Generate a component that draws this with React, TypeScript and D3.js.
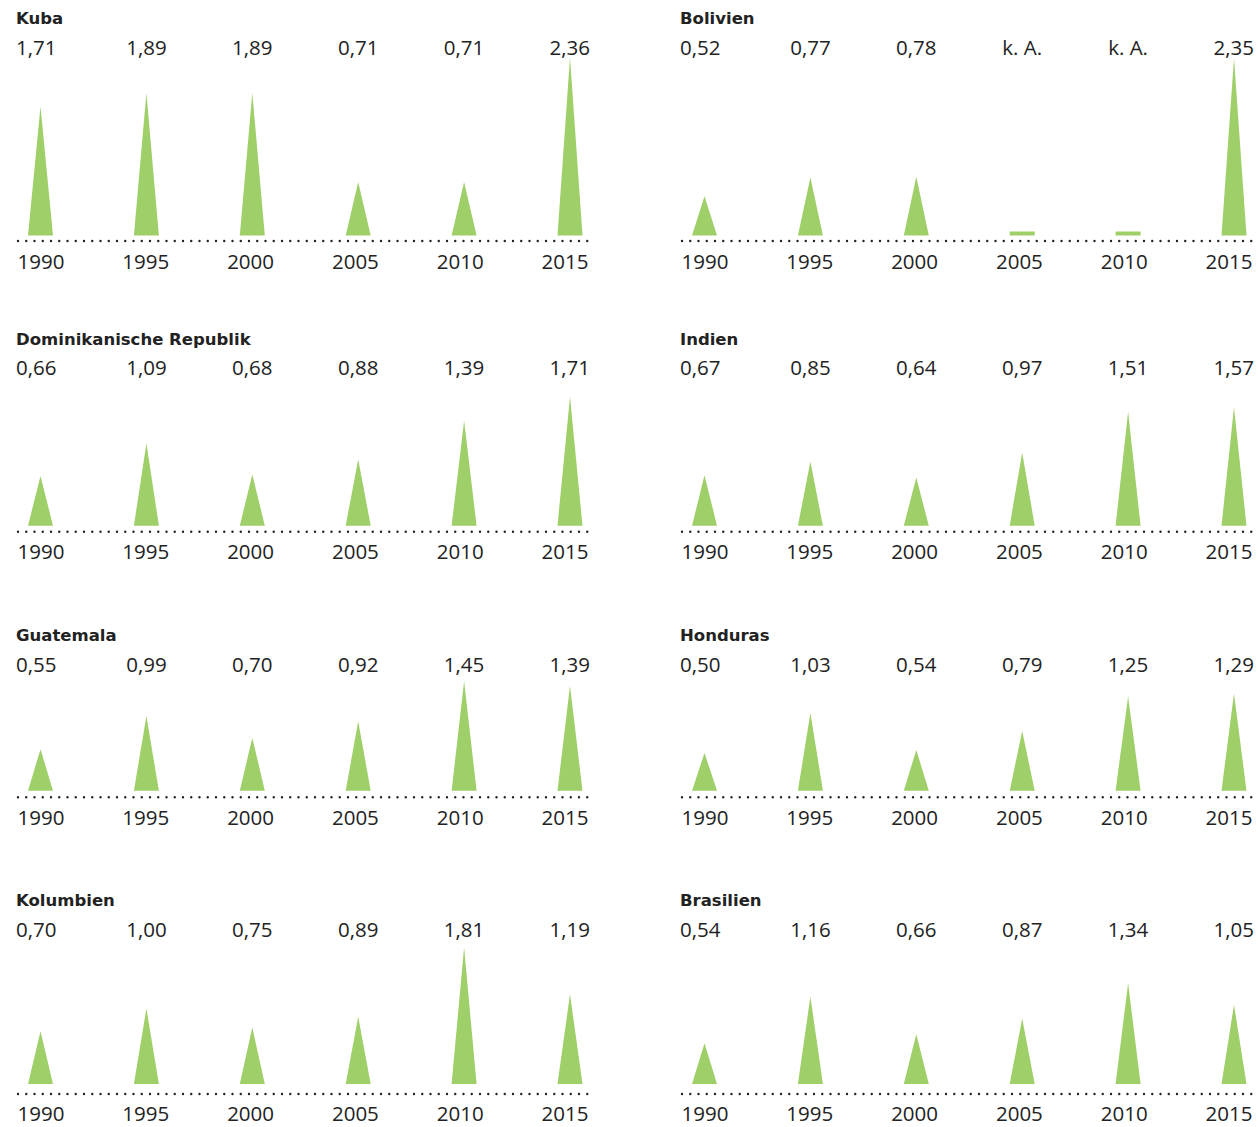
import React from "react";
import * as d3 from "d3";

const countries = [
  "Kuba",
  "Bolivien",
  "Dominikanische Republik",
  "Indien",
  "Guatemala",
  "Honduras",
  "Kolumbien",
  "Brasilien",
];
const years = [1990, 1995, 2000, 2005, 2010, 2015];

const kuba = [1.71, 1.89, 1.89, 0.71, 0.71, 2.36];
const bolivien = [0.52, 0.77, 0.78, null, null, 2.35];
const domRep = [0.66, 1.09, 0.68, 0.88, 1.39, 1.71];
const indien = [0.67, 0.85, 0.64, 0.97, 1.51, 1.57];
const guatemala = [0.55, 0.99, 0.7, 0.92, 1.45, 1.39];
const honduras = [0.5, 1.03, 0.54, 0.79, 1.25, 1.29];
const kolumbien = [0.7, 1.0, 0.75, 0.89, 1.81, 1.19];
const brasilien = [0.54, 1.16, 0.66, 0.87, 1.34, 1.05];

const seriesList: (number | null)[][] = [
  kuba,
  bolivien,
  domRep,
  indien,
  guatemala,
  honduras,
  kolumbien,
  brasilien,
];

const NA_LABEL = "k. A.";

// layout per row
const rows = [
  { title: 24, value: 55, base: 235.5, dots: 241, year: 269 },
  { title: 345, value: 375, base: 525.7, dots: 531.7, year: 559 },
  { title: 641, value: 672, base: 790.7, dots: 797.3, year: 825 },
  { title: 906, value: 937, base: 1084, dots: 1094, year: 1121 },
];
const colOffset = [0, 664];

const GREEN = "#9fcf69";
const TEXT = "#222";
const numFont = "'Open Sans', sans-serif";
const titleFont = "'DejaVu Sans', sans-serif";

const fmt = (v: number) => d3.format(".2f")(v).replace(".", ",");

function Panel({ idx }: { idx: number }) {
  const row = rows[Math.floor(idx / 2)];
  const dx = colOffset[idx % 2];
  const data = seriesList[idx];
  const x = d3.scaleLinear().domain([1990, 2015]).range([40.5 + dx, 570 + dx]);
  const yearX = d3.scaleLinear().domain([1990, 2015]).range([41 + dx, 565 + dx]);
  const h = d3.scaleLinear().domain([0, 2.36]).range([0, 178]);
  const halfW = 12.5;
  const left = 16 + dx;
  const right = 590 + dx;

  return (
    <g>
      <text
        x={left}
        y={row.title}
        fontFamily={titleFont}
        fontWeight="bold"
        fontSize={16.5}
        fill={TEXT}
      >
        {countries[idx]}
      </text>
      {years.map((yr, i) => {
        const v = data[i];
        const label = v == null ? NA_LABEL : fmt(v);
        let anchor: "start" | "middle" | "end" = "middle";
        let tx = x(yr);
        if (i === 0) {
          anchor = "start";
          tx = left;
        } else if (i === years.length - 1) {
          anchor = "end";
          tx = right;
        }
        return (
          <text
            key={"v" + yr}
            x={tx}
            y={row.value}
            textAnchor={anchor}
            fontFamily={numFont}
            fontSize={20.5}
            fill={TEXT}
          >
            {label}
          </text>
        );
      })}
      {years.map((yr, i) => {
        const v = data[i];
        const cx = x(yr);
        if (v == null) {
          return (
            <rect
              key={"t" + yr}
              x={cx - halfW}
              y={row.base - 4}
              width={halfW * 2}
              height={4}
              fill={GREEN}
            />
          );
        }
        const path = d3.path();
        path.moveTo(cx - halfW, row.base);
        path.lineTo(cx, row.base - h(v));
        path.lineTo(cx + halfW, row.base);
        path.closePath();
        return <path key={"t" + yr} d={path.toString()} fill={GREEN} />;
      })}
      <line
        x1={18 + dx}
        x2={592 + dx}
        y1={row.dots}
        y2={row.dots}
        stroke={TEXT}
        strokeWidth={2.4}
        strokeLinecap="round"
        strokeDasharray="0 8.25"
      />
      {years.map((yr) => (
        <text
          key={"y" + yr}
          x={yearX(yr)}
          y={row.year}
          textAnchor="middle"
          fontFamily={numFont}
          fontSize={20.5}
          fill={TEXT}
        >
          {yr}
        </text>
      ))}
    </g>
  );
}

export default function App() {
  return (
    <svg
      width={1258}
      height={1127}
      style={{ position: "absolute", left: 0, top: 0, background: "#fff" }}
    >
      {countries.map((_, i) => (
        <Panel key={i} idx={i} />
      ))}
    </svg>
  );
}
